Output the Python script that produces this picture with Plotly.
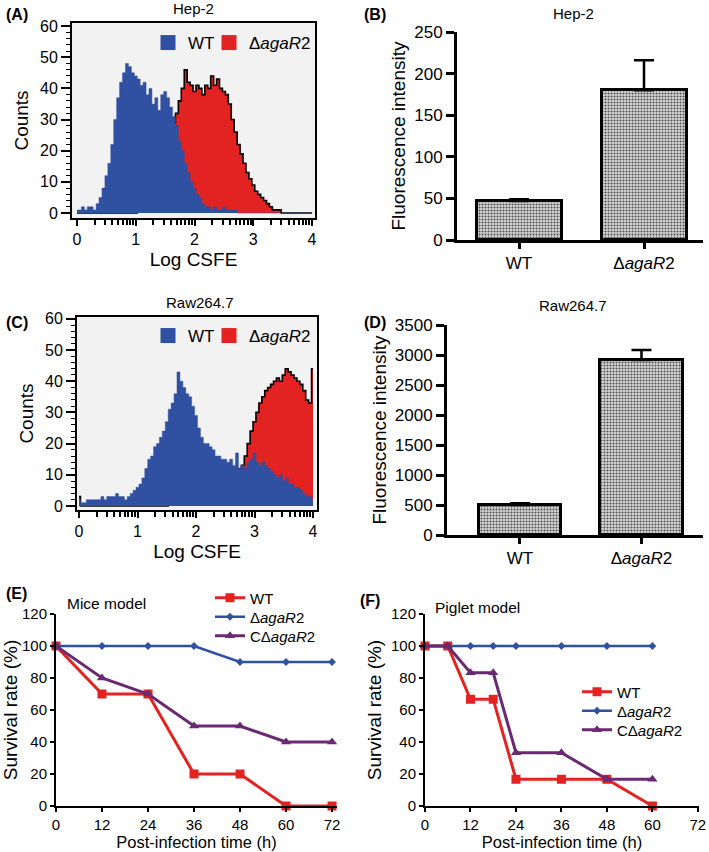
import numpy as np
import plotly.graph_objects as go

# ---- data -------------------------------------------------------------
# histogram bins on the Log CSFE axis (bin centres, 0.05 wide)
log_bins = np.round(np.arange(0, 4.001, 0.05), 2)

hep2_wt_counts = [1, 1, 2, 1, 2, 2, 1, 3, 5, 8, 12, 16, 22, 30, 37, 42, 45, 48, 47, 45,
                  44, 43, 41, 42, 38, 40, 35, 37, 33, 38, 39, 37, 34, 31, 28, 23, 20, 16, 13, 10,
                  8, 6, 5, 3, 2, 2, 1, 2, 1, 1, 2, 1, 1, 1, 1, 0, 0, 0, 0, 0,
                  0, 0, 0, 0, 0, 0, 0, 0, 0, 0, 0, 0, 0, 0, 0, 0, 0, 0, 0, 0, 0]
hep2_mut_counts = [0, 0, 0, 0, 0, 0, 0, 0, 0, 0, 0, 0, 0, 0, 0, 0, 0, 0, 0, 0,
                   0, 1, 2, 3, 5, 7, 10, 13, 17, 21, 25, 28, 30, 29, 32, 36, 40, 46, 42, 41,
                   39, 41, 40, 38, 41, 40, 44, 41, 43, 40, 39, 38, 35, 30, 26, 22, 19, 16, 13, 11,
                   9, 7, 6, 5, 4, 3, 2, 1, 1, 1, 0, 0, 0, 0, 0, 0, 0, 0, 0, 0, 0]

raw_wt_counts = [2, 1, 1, 2, 2, 2, 2, 2, 3, 2, 3, 3, 3, 4, 3, 3, 2, 3, 4, 5,
                 6, 7, 9, 12, 15, 16, 19, 20, 22, 24, 27, 31, 33, 36, 43, 40, 38, 36, 35, 32,
                 29, 25, 22, 20, 20, 19, 18, 16, 16, 15, 15, 14, 15, 13, 17, 12, 13, 12, 14, 15,
                 17, 14, 13, 14, 13, 12, 11, 10, 9, 10, 8, 9, 7, 7, 6, 6, 5, 4, 3, 3, 2]
raw_mut_counts = [3, 0, 0, 0, 0, 0, 0, 0, 0, 0, 0, 0, 0, 0, 0, 0, 0, 0, 0, 0,
                  0, 0, 0, 0, 0, 0, 0, 0, 0, 0, 0, 1, 1, 1, 2, 2, 2, 3, 3, 3,
                  4, 4, 5, 5, 5, 6, 6, 7, 7, 8, 8, 9, 10, 11, 12, 12, 13, 16, 20, 24,
                  27, 30, 33, 35, 37, 38, 39, 40, 41, 40, 42, 44, 43, 42, 41, 40, 39, 37, 34, 33, 44]

strains = ["WT", "Δ<i>agaR</i>2"]
hep2_mfi = [47, 180]
hep2_mfi_err = [2, 36]
raw_mfi = [500, 2917]
raw_mfi_err = [28, 166]

mice_hours = [0, 12, 24, 36, 48, 60, 72]
mice_wt = [100, 70, 70, 20, 20, 0, 0]
mice_mut = [100, 100, 100, 100, 90, 90, 90]
mice_comp = [100, 80, 70, 50, 50, 40, 40]

piglet_hours = [0, 6, 12, 18, 24, 36, 48, 60]
piglet_wt = [100, 100, 66.7, 66.7, 16.7, 16.7, 16.7, 0]
piglet_mut = [100, 100, 100, 100, 100, 100, 100, 100]
piglet_comp = [100, 100, 83.3, 83.3, 33.3, 33.3, 16.7, 16.7]

# ---- style ------------------------------------------------------------
FONT = "Liberation Sans, Arial, sans-serif"
BLUE = "#3050a2"
RED = "#e32222"
PURPLE = "#6a2a72"
HIST_BG = "#f2f2f2"
W, H = 709, 852


def dom_x(left, right):
    return [left / W, right / W]


def dom_y(top, bottom):
    return [1 - bottom / H, 1 - top / H]


fig = go.Figure()
legends = {}


def new_legend(px, py, size):
    # one legend per entry, so each entry sits where the reference puts it
    key = "legend" if not legends else f"legend{len(legends) + 1}"
    legends[key] = dict(x=px / W, y=1 - py / H, xanchor="left", yanchor="middle",
                        bgcolor="rgba(0,0,0,0)", font=dict(size=size, family=FONT, color="black"),
                        itemsizing="trace")
    return key


# ---- histograms (A, C) ------------------------------------------------
for xa, ya, wt, mut, leg_y in [("x", "y", hep2_wt_counts, hep2_mut_counts, 43),
                               ("x3", "y3", raw_wt_counts, raw_mut_counts, 336)]:
    fig.add_trace(go.Scatter(x=log_bins, y=mut, mode="lines", line_shape="hvh",
                             fill="tozeroy", fillcolor=RED, line=dict(color="black", width=1.6),
                             xaxis=xa, yaxis=ya, showlegend=False))
    fig.add_trace(go.Scatter(x=log_bins, y=wt, mode="lines", line_shape="hvh",
                             fill="tozeroy", fillcolor=BLUE, line=dict(color=BLUE, width=0.5),
                             xaxis=xa, yaxis=ya, showlegend=False))
    for name, col, leg_x in [("WT", BLUE, 148), ("Δ<i>agaR</i>2", RED, 209)]:
        fig.add_trace(go.Scatter(x=[None], y=[None], mode="markers", name=name,
                                 marker=dict(symbol="square", size=15, color=col),
                                 xaxis=xa, yaxis=ya, legend=new_legend(leg_x, leg_y, 17)))

# ---- bar charts (B, D) ------------------------------------------------
for xa, ya, vals, errs in [("x2", "y2", hep2_mfi, hep2_mfi_err),
                           ("x4", "y4", raw_mfi, raw_mfi_err)]:
    fig.add_trace(go.Bar(
        x=strains, y=vals, width=0.68, xaxis=xa, yaxis=ya, showlegend=False,
        marker=dict(color="#a0a0a0", line=dict(color="black", width=3),
                    pattern=dict(shape=".", size=3, solidity=0.4, fgcolor="#505050",
                                 bgcolor="#d8d8d8", fillmode="replace")),
        error_y=dict(type="data", array=errs, arrayminus=[0, 0], symmetric=False,
                     color="black", thickness=2.5, width=10),
    ))

# ---- survival curves (E, F) ------------------------------------------
series = [
    ("WT", RED, "square", 9, 3),
    ("Δ<i>agaR</i>2", BLUE, "diamond", 6, 2.5),
    ("CΔ<i>agaR</i>2", PURPLE, "triangle-up", 9, 3),
]
for xa, ya, hours, ys, leg_x, leg_y0 in [
        ("x5", "y5", mice_hours, [mice_wt, mice_mut, mice_comp], 210, 598),
        ("x6", "y6", piglet_hours, [piglet_wt, piglet_mut, piglet_comp], 577, 692)]:
    for i, ((name, col, sym, size, lw), yv) in enumerate(zip(series, ys)):
        fig.add_trace(go.Scatter(x=hours, y=yv, mode="lines+markers", name=name,
                                 line=dict(color=col, width=lw),
                                 marker=dict(symbol=sym, size=size, color=col),
                                 xaxis=xa, yaxis=ya, cliponaxis=False,
                                 legend=new_legend(leg_x, leg_y0 + 19 * i, 15)))

# ---- axes -------------------------------------------------------------
minor_log = [d + np.log10(k) for d in range(4) for k in range(2, 10)]
hist_x = dict(showline=True, linecolor="black", linewidth=1.5, mirror=True, automargin=False,
              ticks="outside", ticklen=6, tickwidth=2, tickcolor="black",
              tickvals=[0, 1, 2, 3, 4], showgrid=False, zeroline=False,
              tickfont=dict(size=16, color="black"),
              minor=dict(tickvals=minor_log, ticks="outside", ticklen=5, tickwidth=1.5,
                         tickcolor="black"),
              title=dict(text="Log CSFE", font=dict(size=19, color="black"), standoff=6))
hist_y = dict(showline=True, linecolor="black", linewidth=2, mirror=True, automargin=False,
              ticks="outside", ticklen=9, tickwidth=2, tickcolor="black",
              dtick=10, showgrid=False, zeroline=False,
              tickfont=dict(size=16, color="black"),
              minor=dict(dtick=2, ticks="outside", ticklen=4, tickwidth=1.2, tickcolor="black"),
              title=dict(text="Counts", font=dict(size=19, color="black"), standoff=6))

bar_x = dict(showline=True, linecolor="black", linewidth=3, ticks="outside", ticklen=6,
             tickwidth=2.5, tickcolor="black", showgrid=False, zeroline=False, automargin=False,
             tickfont=dict(size=17, color="black"))
bar_y = dict(showline=True, linecolor="black", linewidth=3, ticks="outside", ticklen=8,
             tickwidth=2.5, tickcolor="black", showgrid=False, zeroline=False, automargin=False,
             tickfont=dict(size=17, color="black"),
             title=dict(text="Fluorescence intensity", font=dict(size=19, color="black"),
                        standoff=4))

surv_x = dict(showline=True, linecolor="black", linewidth=2, ticks="outside", ticklen=4,
              tickwidth=1.5, tickcolor="black", dtick=12, tick0=0, showgrid=False,
              zeroline=False, automargin=False, tickfont=dict(size=15, color="black"),
              title=dict(text="Post-infection time (h)", font=dict(size=16.5, color="black"),
                         standoff=4))
surv_y = dict(showline=True, linecolor="black", linewidth=2, ticks="outside", ticklen=4,
              tickwidth=1.5, tickcolor="black", dtick=20, range=[0, 120], showgrid=False,
              zeroline=False, automargin=False, tickfont=dict(size=15, color="black"),
              title=dict(text="Survival rate (%)", font=dict(size=19, color="black"),
                         standoff=4))

fig.update_layout(
    xaxis=dict(hist_x, domain=dom_x(72, 315), range=[-0.085, 4.05], anchor="y"),
    yaxis=dict(hist_y, domain=dom_y(23, 218), range=[-1.6, 61], anchor="x"),
    xaxis3=dict(hist_x, domain=dom_x(77, 317), range=[-0.034, 4.068], anchor="y3"),
    yaxis3=dict(hist_y, domain=dom_y(317, 510), range=[-1.3, 60.6], anchor="x3"),
    xaxis2=dict(bar_x, domain=dom_x(457, 703), range=[-0.496, 1.472], anchor="y2"),
    yaxis2=dict(bar_y, domain=dom_y(32, 240), range=[0, 250], dtick=50, anchor="x2"),
    xaxis4=dict(bar_x, domain=dom_x(447, 703), range=[-0.60, 1.506], anchor="y4"),
    yaxis4=dict(bar_y, domain=dom_y(325, 535), range=[0, 3500], dtick=500, anchor="x4"),
    xaxis5=dict(surv_x, domain=dom_x(56, 337), range=[0, 73.3], anchor="y5"),
    yaxis5=dict(surv_y, domain=dom_y(614, 806), anchor="x5"),
    xaxis6=dict(surv_x, domain=dom_x(425, 699), range=[0, 72.3], anchor="y6"),
    yaxis6=dict(surv_y, domain=dom_y(614, 806), anchor="x6"),
    **legends,
)

# grey background for the histogram panels
for xref, yref in [("x", "y"), ("x3", "y3")]:
    fig.add_shape(type="rect", xref=f"{xref} domain", yref=f"{yref} domain",
                  x0=0, x1=1, y0=0, y1=1, fillcolor=HIST_BG, line_width=0, layer="below")

labels = [
    ("(A)", 4, 14, "left", 16, True),
    ("(B)", 362, 14, "left", 16, True),
    ("(C)", 4, 322, "left", 16, True),
    ("(D)", 362, 322, "left", 16, True),
    ("(E)", 4, 593, "left", 16, True),
    ("(F)", 358, 600, "left", 16, True),
    ("Hep-2", 193, 8, "center", 15, False),
    ("Hep-2", 573, 13, "center", 15, False),
    ("Raw264.7", 200, 302, "center", 15, False),
    ("Raw264.7", 573, 305, "center", 15, False),
    ("Mice model", 65, 603, "left", 15.5, False),
    ("Piglet model", 433, 607, "left", 15.5, False),
]
for text, px, py, anchor, size, bold in labels:
    fig.add_annotation(text=f"<b>{text}</b>" if bold else text, x=px / W, y=1 - py / H,
                       xref="paper", yref="paper", xanchor=anchor, yanchor="middle",
                       showarrow=False, font=dict(size=size, color="black", family=FONT))

fig.update_layout(
    width=W, height=H, margin=dict(l=0, r=0, t=0, b=0),
    paper_bgcolor="white", plot_bgcolor="rgba(0,0,0,0)",
    font=dict(family=FONT, color="black"), bargap=0,
)

# the page body has a default 8px margin; drop it so the figure fills the window
fig.write_html("out.html", config={"displayModeBar": False},
               post_script="document.body.style.margin = '0';")
